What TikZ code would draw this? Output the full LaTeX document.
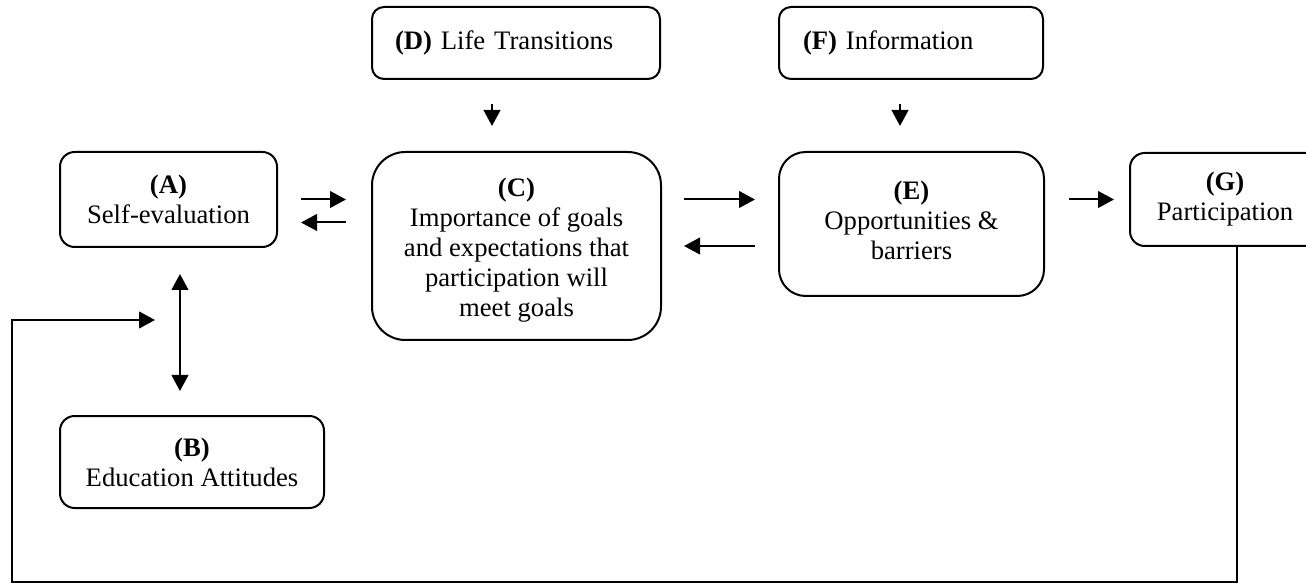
\documentclass[tikz,border=0pt]{standalone}
\usepackage{fontspec}
\setmainfont{Liberation Serif}
\usetikzlibrary{arrows.meta}

\begin{document}
\begin{tikzpicture}[x=0.75pt,y=-0.75pt,line width=1.5pt,
	blk/.style={draw,rounded corners=11pt,align=center,inner sep=0pt,font=\fontsize{20}{22.5}\selectfont},
	txt/.style={align=center,inner sep=0pt,font=\fontsize{20}{22.5}\selectfont},
	arr/.style={-{Triangle[length=12pt,width=12.5pt]}},
	dbl/.style={{Triangle[length=12pt,width=12.5pt]}-{Triangle[length=12pt,width=12.5pt]}}]
	\path[use as bounding box,clip] (0,0) rectangle (1306,584);
	\node[blk,minimum width=162.75pt,minimum height=71.25pt] (a) at (168.5,199.5) {\textbf{(A)}\\Self-evaluation};
	\node[blk,minimum width=198pt,minimum height=69pt] (b) at (192,462) {\textbf{(B)}\\Education Attitudes};
	\node[blk,rounded corners=25pt,minimum width=216.75pt,minimum height=141pt] (c) at (516.5,246) {};
	\node[txt] (ctext) at (516.5,250) {\textbf{(C)}\\Importance of goals\\and expectations that\\participation will\\meet goals};
	\node[blk,rounded corners=9pt,align=left,text width=181.5pt,inner xsep=17.25pt,minimum height=54pt] (d) at (516,43) {\textbf{(D)} Life Transitions};
	\node[blk,rounded corners=20pt,minimum width=198.75pt,minimum height=108pt] (e) at (911.5,224) {};
	\node[txt] (etext) at (911.5,220) {\textbf{(E)}\\Opportunities \&\\barriers};
	\node[blk,rounded corners=9pt,align=left,text width=162pt,inner xsep=18pt,minimum height=54pt] (f) at (911,43) {\textbf{(F)} Information};
	\node[blk,minimum width=142.5pt,minimum height=69.75pt] (g) at (1225,199.5) {\textbf{(G)}\\Participation};
	\coordinate (ca) at ([yshift=-17.25pt]a.east);
	\coordinate (ab) at ([xshift=8.6pt]a.south);
	\coordinate (dc) at ([xshift=-18pt]d.south);
	\coordinate (fe) at ([xshift=-8.25pt]f.south);
	\coordinate (gb) at ([xshift=9pt]g.south);
	\coordinate (back) at (12,582);
	\coordinate (ain) at (155,320);
	\draw[arr,shorten <=17.25pt,shorten >=18.75pt] (a.east) -- (a.east -| c.west);
	\draw[arr,shorten <=18.75pt,shorten >=17.25pt] (ca -| c.west) -- (ca);
	\draw[dbl,shorten <=19.5pt,shorten >=18pt] (ab) -- (ab |- b.north);
	\draw[arr,shorten <=18pt,shorten >=18.75pt] (dc) -- (dc |- c.north);
	\draw[arr,shorten <=16.5pt,shorten >=17.25pt] (c.east |- a.east) -- (e.west |- a.east);
	\draw[arr,shorten <=17.25pt,shorten >=16.5pt] (e.west |- c.east) -- (c.east);
	\draw[arr,shorten <=18pt,shorten >=18.75pt] (fe) -- (fe |- e.north);
	\draw[arr,shorten <=18pt,shorten >=11.25pt] (e.east |- g.west) -- (g.west);
	\draw[arr] (gb) |- (back) |- (ain);
\end{tikzpicture}
\end{document}
